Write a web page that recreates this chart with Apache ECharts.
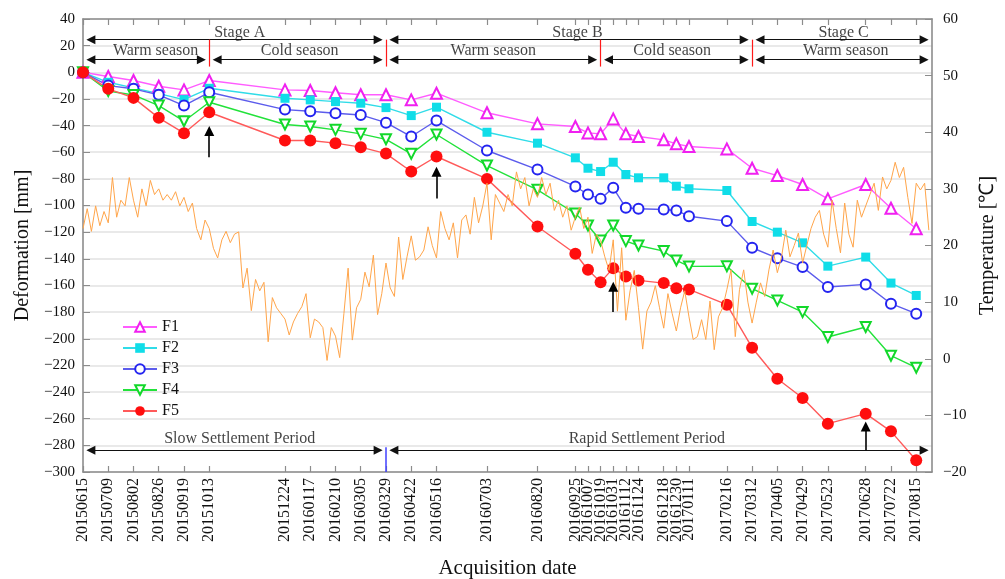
<!DOCTYPE html>
<html>
<head>
<meta charset="utf-8">
<script src="https://cdn.jsdelivr.net/npm/echarts@6/dist/echarts.min.js"></script>
<style>
  html, body { margin: 0; padding: 0; background: #fff; }
  #chart { width: 1005px; height: 579px; }
</style>
</head>
<body>
<div id="chart"></div>
<script>
// ---- Acquisition dates (InSAR epochs) ----
const acquisitionDates = [
  '20150615','20150709','20150802','20150826','20150919','20151013',
  '20151224','20160117','20160210','20160305','20160329','20160422',
  '20160516','20160703','20160820','20160925','20161007','20161019',
  '20161031','20161112','20161124','20161218','20161230','20170111',
  '20170216','20170312','20170405','20170429','20170523','20170628',
  '20170722','20170815'
];

// ---- Cumulative deformation of points F1..F5 (mm) ----
const F1 = [0, -3.2, -6.2, -10.5, -13.2, -6.2, -13.2, -13.7, -15.4, -16.9, -16.9, -20.7,
  -15.7, -30.4, -38.7, -40.7, -45.5, -46.2, -35, -46.2, -48.2, -50.7, -53.7, -55.7,
  -57.5, -72, -77.5, -84.2, -95, -84.2, -102, -117.4];
const F2 = [0, -7.5, -11.7, -16, -20.5, -12, -19.5, -20.7, -22, -23.2, -26.5, -32.5,
  -26.2, -45, -53.2, -64.2, -72, -74.5, -67.5, -76.7, -79.2, -79.2, -85.5, -87.4,
  -88.7, -112, -120, -128, -145.5, -138.7, -158.2, -167.5];
const F3 = [0, -10, -12.4, -16.9, -25, -15, -28, -29.2, -30.7, -32, -37.8, -48.2,
  -36.2, -58.7, -73, -85.7, -91.7, -95, -86.7, -101.7, -102.4, -103, -103.7, -108,
  -111.7, -131.7, -139.5, -146.2, -161.2, -159.2, -173.7, -181.2];
const F4 = [0, -14, -17, -25, -36.7, -22.5, -39.2, -40.7, -43.2, -46.2, -50.3, -61.2,
  -46.7, -70, -88.2, -106, -115, -126.2, -115, -126.7, -130, -134.2, -141.2, -145.7,
  -145.5, -162.4, -171.2, -180, -198.7, -191.2, -212.7, -221.7];
const F5 = [0, -12.4, -19.2, -34.2, -45.7, -30, -51.2, -51.2, -53.2, -56.2, -61, -74.5,
  -63.2, -80, -115.7, -136.2, -148.2, -157.5, -147, -153.2, -156.2, -158.2, -162, -163,
  -174.4, -206.7, -230, -244.5, -263.7, -256.2, -269.5, -291.2];

// ---- Air temperature (°C), one reading every 4 days from 20150615 ----
const tempStart = '20150615';
const tempStepDays = 4;
const tempValues = [
  23, 26.5, 22.5, 27, 23.5, 26, 24, 32, 25, 28,
  27, 32, 28, 25, 30, 27, 31.5, 29, 30, 28,
  29, 28, 29.5, 27, 28.5, 26, 27.5, 23, 21, 24.5,
  23, 19.5, 17.8, 21, 22.5, 20.5, 22, 22.4, 12.5, 16,
  8.5, 14, 12, 13.5, 3, 10.8, 9, 8, 7, 4.2,
  6.5, 8, 9.2, 11.5, 3.7, 7, 6.5, 5.5, -0.3, 5.5,
  4, 0.2, 8, 16, 3.3, 9, 10.5, 15.3, 12.7, 18.3,
  7.8, 11.5, 16.9, 12.5, 11, 21.5, 14, 18, 21.7, 17.4,
  18, 19.2, 23.3, 20, 17.8, 26, 23, 21, 24, 17.8,
  24.5, 25.4, 22, 28.5, 24, 27, 31, 21, 29, 27.5,
  26, 29, 27, 33, 30, 32, 27, 30, 28.5, 32,
  29, 31, 26.2, 28, 25, 27, 22.7, 25, 26.8, 23,
  25, 18.6, 22, 20.9, 18, 15.6, 21, 8.4, 19.6, 6.8,
  12, 15.6, 9, 1.7, 8.4, 10, 12.9, 9, 5.4, 11.5,
  8, 4.9, 9, 12, 7.4, 3.4, 3.9, 6.9, 3.4, 10.2,
  1.6, 7.4, 9, 12.2, 15.7, 3.9, 12.2, 15.7, 10, 6.3,
  10, 13.4, 11, 15.7, 19.2, 15.2, 18, 22.7, 18, 20,
  22.2, 16.9, 20, 23, 25, 26.2, 22, 19.7, 28, 23,
  18.7, 27.5, 22, 19.7, 28, 25, 27, 29, 31, 26.2,
  32.1, 30, 31.5, 34.7, 32, 33.8, 28.5, 23.9, 31, 29.8,
  31, 22.7
];

// ---- Period annotations ----
const axisStart = '20150615';
const axisEnd = '20170830';
const stageSpans = [['20150615', '20160329'], ['20160329', '20170312'], ['20170312', '20170830']];
const seasonSpans = [['20150615', '20151013'], ['20151013', '20160329'], ['20160329', '20161019'],
  ['20161019', '20170312'], ['20170312', '20170830']];
const settlementSpans = [['20150615', '20160329'], ['20160329', '20170830']];
const seasonBreaks = ['20151013', '20160329', '20161019', '20170312'];
const settlementBreak = '20160329';
const stageLabels = [['20151111', 'Stage A'], ['20160927', 'Stage B'], ['20170607', 'Stage C']];
const seasonLabels = [['20150823', 'Warm season'], ['20160107', 'Cold season'], ['20160709', 'Warm season'],
  ['20161226', 'Cold season'], ['20170609', 'Warm season']];
const settlementLabels = [['20151111', 'Slow Settlement Period'], ['20161202', 'Rapid Settlement Period']];
// up-arrows under the rebound points: [date, tail value, tip value]
const reboundArrows = [['20151013', -63.7, -40.7], ['20160516', -94.7, -71.2],
  ['20161031', -180, -157.5], ['20170628', -283.7, -262.5]];
// vertical levels (mm) of annotation rows
const stageRowLevel = 24.5, stageTextLevel = 29.5;
const seasonRowLevel = 9.5, seasonTextLevel = 16;
const breakTop = 24.5, breakBottom = 4.3;
const settleRowLevel = -283.7, settleTextLevel = -275, settleBreakTop = -281.5;

// ---- helpers ----
const DAY = 86400000;
const toTime = s => Date.UTC(+s.slice(0, 4), +s.slice(4, 6) - 1, +s.slice(6, 8));
const fmtDate = t => {
  const d = new Date(t);
  return d.getUTCFullYear() + String(d.getUTCMonth() + 1).padStart(2, '0') + String(d.getUTCDate()).padStart(2, '0');
};
const minus = v => String(v).replace('-', '\u2212');
const FONT = 'Liberation Serif';
const tickTimes = acquisitionDates.map(toTime);

const pairs = arr => acquisitionDates.map((d, i) => [toTime(d), arr[i]]);
const tempData = tempValues.map((v, i) => [toTime(tempStart) + i * tempStepDays * DAY, v]);

// arrow heads are centred on the line ends, so the ends sit a little inside each span
const HEAD = 9;                 // arrow head size, px
const rowInset = 7.5 * DAY;      // ≈ 3 px gap + half a head
const headShift = 3.4;           // half a head, in mm, for the vertical arrows
const spanLines = (spans, level) => spans.map(([a, b]) => [
  { coord: [toTime(a) + rowInset, level] }, { coord: [toTime(b) - rowInset, level] }
]);
const textPoints = (labels, level) => labels.map(([d, t]) => ({ value: [toTime(d), level], name: t }));

const deformStyles = [
  { name: 'F1', data: F1, symbol: 'emptyTriangle', size: 11, rotate: 0, color: '#f020f0', line: '#ff5cff' },
  { name: 'F2', data: F2, symbol: 'rect', size: 9, rotate: 0, color: '#10dde8', line: '#30dce8' },
  { name: 'F3', data: F3, symbol: 'emptyCircle', size: 10, rotate: 0, color: '#2424f0', line: '#5c5cec' },
  { name: 'F4', data: F4, symbol: 'emptyTriangle', size: 10, rotate: 180, color: '#12d82a', line: '#22e23a' },
  { name: 'F5', data: F5, symbol: 'circle', size: 12, rotate: 0, color: '#ff0e0e', line: '#ff5a5a' }
];

const deformSeries = deformStyles.map(s => ({
  name: s.name,
  type: 'line',
  data: pairs(s.data),
  xAxisIndex: 0,
  yAxisIndex: 0,
  symbol: s.symbol,
  symbolSize: s.size,
  symbolRotate: s.rotate,
  showAllSymbol: true,
  itemStyle: { color: s.color },
  lineStyle: { color: s.line, width: 1.4 },
  emphasis: { disabled: true },
  z: 3
}));

const markBase = {
  silent: true,
  animation: false,
  label: { show: false },
  emphasis: { disabled: true }
};

const annotationSeries = [
  {
    name: 'rows', type: 'line', data: [], xAxisIndex: 0, yAxisIndex: 0, silent: true,
    markLine: Object.assign({}, markBase, {
      symbol: ['triangle', 'triangle'],
      symbolSize: HEAD,
      lineStyle: { color: '#111', width: 1, type: 'solid' },
      data: [].concat(spanLines(stageSpans, stageRowLevel), spanLines(seasonSpans, seasonRowLevel),
        spanLines(settlementSpans, settleRowLevel))
    })
  },
  {
    name: 'breaks', type: 'line', data: [], xAxisIndex: 0, yAxisIndex: 0, silent: true,
    markLine: Object.assign({}, markBase, {
      symbol: ['none', 'none'],
      lineStyle: { color: '#ff1a1a', width: 1.2, type: 'solid' },
      data: seasonBreaks.map(d => [{ coord: [toTime(d), breakTop] }, { coord: [toTime(d), breakBottom] }])
    })
  },
  {
    name: 'settleBreak', type: 'line', data: [], xAxisIndex: 0, yAxisIndex: 0, silent: true,
    markLine: Object.assign({}, markBase, {
      symbol: ['none', 'none'],
      lineStyle: { color: '#4040ff', width: 1.5, type: 'solid' },
      data: [[{ coord: [toTime(settlementBreak), settleBreakTop] }, { coord: [toTime(settlementBreak), -300] }]]
    })
  },
  {
    name: 'rebound', type: 'line', data: [], xAxisIndex: 0, yAxisIndex: 0, silent: true,
    markLine: Object.assign({}, markBase, {
      symbol: ['none', 'triangle'],
      symbolSize: 10,
      lineStyle: { color: '#000', width: 1.6, type: 'solid' },
      data: reboundArrows.map(([d, a, b]) => [{ coord: [toTime(d), a] }, { coord: [toTime(d), b - headShift] }])
    })
  },
  {
    name: 'texts', type: 'scatter', xAxisIndex: 0, yAxisIndex: 0, silent: true,
    symbolSize: 1,
    itemStyle: { color: 'rgba(0,0,0,0)' },
    label: {
      show: true, position: 'inside', formatter: p => p.name,
      fontFamily: FONT, fontSize: 16, color: '#111'
    },
    data: [].concat(textPoints(stageLabels, stageTextLevel), textPoints(seasonLabels, seasonTextLevel),
      textPoints(settlementLabels, settleTextLevel)),
    z: 5
  }
];

const tempSeries = {
  name: 'Temperature',
  type: 'line',
  data: tempData,
  xAxisIndex: 0,
  yAxisIndex: 1,
  showSymbol: false,
  lineStyle: { color: '#ffa54a', width: 1 },
  emphasis: { disabled: true },
  z: 4
};

const xCommon = {
  type: 'value',
  min: toTime(axisStart),
  max: toTime(axisEnd),
  splitLine: { show: false },
  axisLine: { show: true, onZero: false, lineStyle: { color: '#8c8c8c', width: 1.6 } },
  axisTick: { show: true, inside: true, length: 6, customValues: tickTimes, lineStyle: { color: '#8c8c8c', width: 1.2 } }
};

const chart = echarts.init(document.getElementById('chart'), null, { renderer: 'canvas' });
chart.setOption({
  animation: false,
  backgroundColor: '#fff',
  grid: { left: 83, right: 73, top: 19, bottom: 107, containLabel: false, outerBoundsMode: 'none' },
  legend: {
    data: ['F1', 'F2', 'F3', 'F4', 'F5'],
    orient: 'vertical',
    left: 117,
    top: 314,
    itemWidth: 34,
    itemHeight: 12,
    itemGap: 5,
    symbolRotate: 'inherit',
    textStyle: { fontFamily: FONT, fontSize: 16, color: '#111' }
  },
  xAxis: [
    Object.assign({}, xCommon, {
      position: 'bottom',
      name: 'Acquisition date',
      nameLocation: 'middle',
      nameGap: 86,
      nameTextStyle: { fontFamily: FONT, fontSize: 21, color: '#111' },
      axisLabel: {
        show: true, rotate: 90, margin: 6, customValues: tickTimes,
        formatter: v => fmtDate(v), fontFamily: FONT, fontSize: 16, color: '#111'
      }
    }),
    Object.assign({}, xCommon, {
      position: 'top',
      axisLabel: { show: false }
    })
  ],
  yAxis: [
    {
      type: 'value', min: -300, max: 40, interval: 20,
      name: 'Deformation [mm]', nameLocation: 'middle', nameGap: 46, nameRotate: 90,
      nameTextStyle: { fontFamily: FONT, fontSize: 20, color: '#111' },
      axisLine: { show: true, onZero: false, lineStyle: { color: '#8c8c8c', width: 1.6 } },
      axisTick: { show: true, inside: true, length: 7, lineStyle: { color: '#8c8c8c' } },
      axisLabel: { margin: 8, fontFamily: FONT, fontSize: 15, color: '#111', formatter: minus },
      splitLine: { show: true, lineStyle: { color: '#e2e2e2', width: 1.5 } }
    },
    {
      type: 'value', min: -20, max: 60, interval: 10, position: 'right',
      name: 'Temperature [\u2103]', nameLocation: 'middle', nameGap: 44, nameRotate: 90,
      nameTextStyle: { fontFamily: FONT, fontSize: 20, color: '#111' },
      axisLine: { show: true, onZero: false, lineStyle: { color: '#8c8c8c', width: 1.6 } },
      axisTick: { show: true, inside: true, length: 7, lineStyle: { color: '#8c8c8c' } },
      axisLabel: { margin: 11, fontFamily: FONT, fontSize: 15, color: '#111', formatter: minus },
      splitLine: { show: false }
    }
  ],
  series: [].concat(deformSeries, [tempSeries], annotationSeries)
});
</script>
</body>
</html>
